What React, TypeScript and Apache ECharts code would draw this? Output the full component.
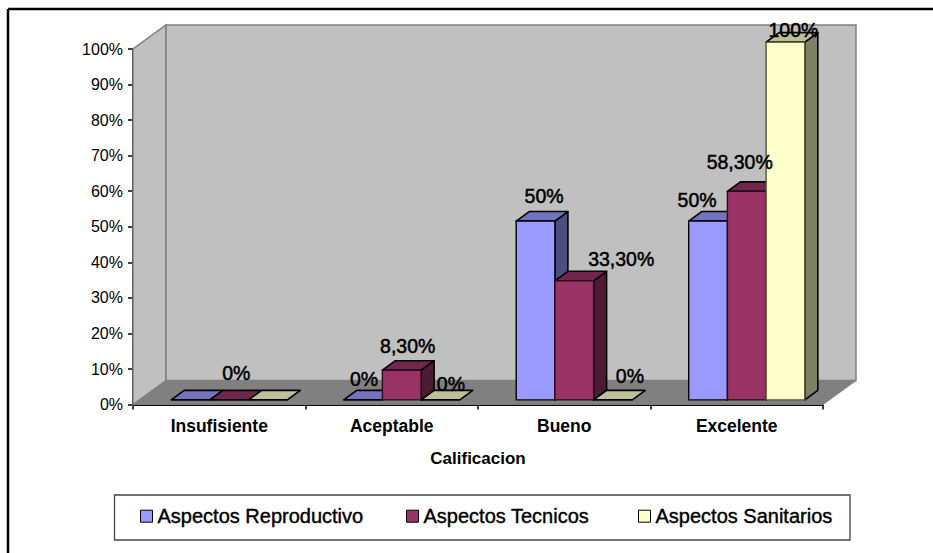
import React, { useEffect, useRef } from "react";
import * as echarts from "echarts";

const categories = ["Insufisiente", "Aceptable", "Bueno", "Excelente"];
const reproductivo = [0, 0, 50, 50];
const tecnicos = [0, 8.3, 33.3, 58.3];
const sanitarios = [0, 0, 0, 100];
const seriesNames = ["Aspectos Reproductivo", "Aspectos Tecnicos", "Aspectos Sanitarios"];
const labelsReproductivo = ["", "0%", "50%", "50%"];
const labelsTecnicos = ["0%", "8,30%", "33,30%", "58,30%"];
const labelsSanitarios = ["", "0%", "0%", "100%"];

// layout only: manual nudges of the data labels from each bar's top, as in the source chart
const nudgeReproductivo = [[0, 0], [1, -21], [8.5, -25], [-11, -21]];
const nudgeTecnicos = [[7, -27], [6, -24], [47, -22], [-7, -29]];
const nudgeSanitarios = [[0, 0], [10.5, -16], [17, -24], [8, -12]];

const FONT = "'Liberation Sans', Arial, sans-serif";
const DEPTH_X = 33;
const DEPTH_Y = 24;
const BAR_W = 38.7;
const BAR_DX = 10;
const BAR_DY = 4.7;
const BAR_SCALE = 1.006;
const BAR_DEPTH_X = 13;
const BAR_DEPTH_Y = 9.5;

const palette = [
  { front: "#9999FF", top: "#7373BF", side: "#4D4D80", line: "#000000", frontLine: "#000000" },
  { front: "#993366", top: "#73264D", side: "#4D1A33", line: "#000000", frontLine: "#2a0a1c" },
  { front: "#FFFFCC", top: "#BFBF99", side: "#808066", line: "#000000", frontLine: "#55552f" },
];

function barGeom(api: any, cat: number, j: number, v: number) {
  const c0 = api.coord([cat, 0]);
  const cv = api.coord([cat, v]);
  const cx = c0[0] + BAR_DX + (j - 1) * BAR_W;
  const y0 = c0[1] - BAR_DY;
  const yt = y0 - (c0[1] - cv[1]) * BAR_SCALE;
  return { x0: cx - BAR_W / 2, x1: cx + BAR_W / 2, y0, yt, cx };
}

function barSeries(name: string, j: number, values: number[]) {
  const p = palette[j];
  return {
    type: "custom",
    name,
    z: 3 + j,
    itemStyle: { color: p.front, borderColor: "#000", borderWidth: 1 },
    data: values.map((v, i) => [i, v]),
    encode: { x: 0, y: 1 },
    renderItem: (_: any, api: any) => {
      const g = barGeom(api, api.value(0), j, api.value(1));
      const { x0, x1, y0, yt } = g;
      const dx = BAR_DEPTH_X;
      const dy = BAR_DEPTH_Y;
      const stroke = { stroke: p.line, lineWidth: 1.6, lineJoin: "round" };
      const children: any[] = [];
      if (y0 - yt > 0.5) {
        children.push({
          type: "polygon",
          shape: { points: [[x1, y0], [x1 + dx, y0 - dy], [x1 + dx, yt - dy], [x1, yt]] },
          style: { fill: p.side, ...stroke },
        });
        children.push({
          type: "polygon",
          shape: { points: [[x0, yt], [x1, yt], [x1 + dx, yt - dy], [x0 + dx, yt - dy]] },
          style: { fill: p.top, ...stroke },
        });
        children.push({
          type: "rect",
          shape: { x: x0, y: yt, width: BAR_W, height: y0 - yt },
          style: { fill: p.front, stroke: p.frontLine, lineWidth: 1.4 },
        });
      } else {
        children.push({
          type: "polygon",
          shape: { points: [[x0, yt], [x1, yt], [x1 + dx, yt - dy], [x0 + dx, yt - dy]] },
          style: { fill: p.top, ...stroke },
        });
      }
      return { type: "group", children };
    },
  };
}

function labelSeries() {
  const rows: any[] = [];
  const sets = [
    { values: reproductivo, labels: labelsReproductivo, nudge: nudgeReproductivo },
    { values: tecnicos, labels: labelsTecnicos, nudge: nudgeTecnicos },
    { values: sanitarios, labels: labelsSanitarios, nudge: nudgeSanitarios },
  ];
  sets.forEach((s, j) =>
    s.values.forEach((v, i) => {
      if (s.labels[i]) rows.push({ value: [i, v], j, text: s.labels[i], nudge: s.nudge[i] });
    })
  );
  return {
    type: "custom",
    name: "etiquetas",
    z: 10,
    data: rows.map((r) => r.value),
    renderItem: (params: any, api: any) => {
      const r = rows[params.dataIndex];
      const g = barGeom(api, api.value(0), r.j, api.value(1));
      return {
        type: "text",
        style: {
          x: g.cx + r.nudge[0],
          y: g.yt + r.nudge[1],
          text: r.text,
          fill: "#000",
          stroke: "#000",
          lineWidth: 0.5,
          font: `19.5px ${FONT}`,
          align: "center",
          verticalAlign: "middle",
        },
      };
    },
  };
}

function wallSeries() {
  return {
    type: "custom",
    name: "paredes",
    z: 1,
    data: [[0, 0]],
    renderItem: (_: any, api: any) => {
      const band = api.size([1, 0])[0];
      const p0 = api.coord([0, 0]);
      const p100 = api.coord([0, 100]);
      const left = p0[0] - band / 2;
      const right = left + band * categories.length;
      const yb = p0[1];
      const yt = p100[1];
      return {
        type: "group",
        children: [
          {
            type: "polygon",
            shape: { points: [[left, yb], [left + DEPTH_X, yb - DEPTH_Y], [left + DEPTH_X, yt - DEPTH_Y], [left, yt]] },
            style: { fill: "#C0C0C0", stroke: "#808080", lineWidth: 1.5 },
          },
          {
            type: "rect",
            shape: { x: left + DEPTH_X, y: yt - DEPTH_Y, width: right - left, height: yb - yt },
            style: { fill: "#C0C0C0", stroke: "#808080", lineWidth: 1.5 },
          },
          {
            type: "polygon",
            shape: { points: [[left, yb], [right, yb], [right + DEPTH_X, yb - DEPTH_Y], [left + DEPTH_X, yb - DEPTH_Y]] },
            style: { fill: "#808080", stroke: "#808080", lineWidth: 1 },
          },
        ],
      };
    },
  };
}

function legendAt(name: string, left: number) {
  return {
    data: [name],
    left,
    top: 506,
    padding: 0,
    itemWidth: 12,
    itemHeight: 12,
    itemGap: 0,
    icon: "rect",
    selectedMode: false,
    itemStyle: { borderColor: "#000", borderWidth: 1 },
    textStyle: { fontFamily: FONT, fontSize: 20, color: "#000", textBorderColor: "#000", textBorderWidth: 0.4 },
  };
}

export default function App() {
  const ref = useRef<HTMLDivElement>(null);
  useEffect(() => {
    document.body.style.margin = "0";
    const chart = echarts.init(ref.current!, undefined, { renderer: "svg" });
    chart.setOption({
      animation: false,
      backgroundColor: "#fff",
      grid: { left: 133, top: 49, width: 690, height: 355.6 },
      xAxis: {
        type: "category",
        data: categories,
        name: "Calificacion",
        nameLocation: "middle",
        nameGap: 45,
        nameTextStyle: { fontFamily: FONT, fontSize: 17, fontWeight: "bold", color: "#000" },
        axisLine: { lineStyle: { color: "#000", width: 2 } },
        axisTick: { show: true, alignWithLabel: false, length: 5, lineStyle: { color: "#000", width: 1.5 } },
        axisLabel: { fontFamily: FONT, fontSize: 17.5, fontWeight: "bold", color: "#000", margin: 12, interval: 0 },
        splitLine: { show: false },
      },
      yAxis: {
        type: "value",
        min: 0,
        max: 100,
        interval: 10,
        axisLine: { show: true, lineStyle: { color: "#000", width: 2 } },
        axisTick: { show: true, length: 5, lineStyle: { color: "#000", width: 1.5 } },
        axisLabel: { fontFamily: FONT, fontSize: 16, color: "#000", margin: 10, formatter: "{value}%" },
        splitLine: { show: false },
      },
      legend: [legendAt(seriesNames[0], 140), legendAt(seriesNames[1], 406), legendAt(seriesNames[2], 638)],
      graphic: [
        { type: "line", silent: true, z: 0, shape: { x1: 8, y1: 9, x2: 933, y2: 9 }, style: { stroke: "#000", lineWidth: 2.5 } },
        { type: "line", silent: true, z: 0, shape: { x1: 8, y1: 9, x2: 8, y2: 553 }, style: { stroke: "#000", lineWidth: 2.5 } },
        { type: "rect", silent: true, z: -1, shape: { x: 114.5, y: 495, width: 735.5, height: 45 }, style: { fill: "#fff", stroke: "#444", lineWidth: 1.3 } },
      ],
      series: [
        wallSeries(),
        barSeries(seriesNames[0], 0, reproductivo),
        barSeries(seriesNames[1], 1, tecnicos),
        barSeries(seriesNames[2], 2, sanitarios),
        labelSeries(),
      ],
    });
    return () => chart.dispose();
  }, []);
  return <div ref={ref} style={{ width: 933, height: 553 }} />;
}
